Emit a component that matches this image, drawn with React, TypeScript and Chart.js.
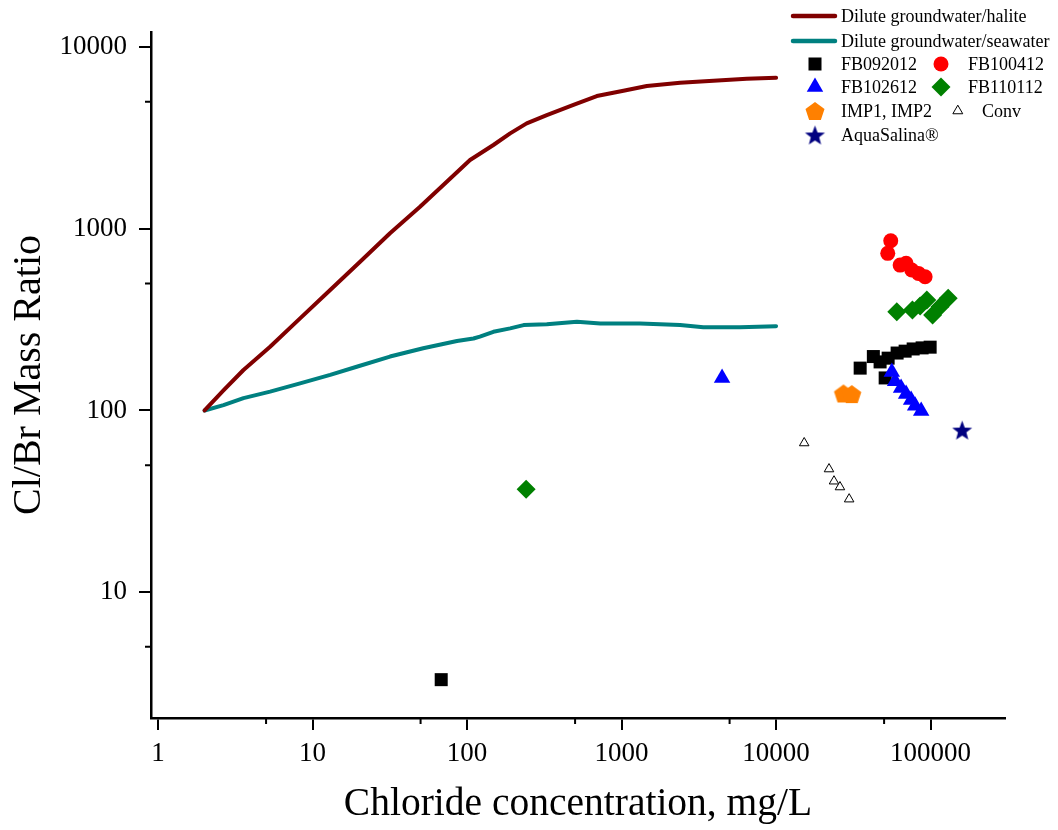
import React, { useEffect, useRef } from 'react';
import { Chart, registerables } from 'chart.js';
import { drawPoint } from 'chart.js/helpers';

Chart.register(...registerables);

const FONT = "'Liberation Serif', 'Times New Roman', serif";

// ---- Data ----
const haliteX = [2, 2.65, 3.57, 5.31, 8.3, 13, 20.3, 31.7, 49.6, 73.9, 104.5, 148, 190, 243, 328, 488, 691, 1028, 1456, 2392, 3928, 6460, 10000];
const haliteY = [100, 129, 167, 224, 321, 460, 658, 944, 1321, 1814, 2390, 2890, 3350, 3800, 4225, 4800, 5375, 5750, 6100, 6360, 6525, 6692, 6780];

const seawaterX = [2, 2.65, 3.57, 5.31, 8.3, 13, 19.3, 31.7, 52, 86, 110, 121, 148, 190, 232, 328, 514, 728, 1315, 2392, 3380, 5820, 10000];
const seawaterY = [100, 107, 117, 127, 141, 157, 174, 198, 220, 241, 249, 255, 271, 283, 295, 298, 308, 301, 301, 295, 287, 287, 291];

const fb092012X = [68, 35000, 42600, 47100, 50800, 53100, 60700, 68400, 77100, 88100, 99300];
const fb092012Y = [3.3, 171, 198, 185, 151, 194, 207, 212, 218, 221, 223];

const fb100412X = [52800, 55200, 63500, 69400, 75500, 83400, 92100];
const fb100412Y = [732, 859, 631, 645, 593, 568, 544];

const fb102612X = [4470, 56100, 58900, 64400, 69400, 74800, 79400, 86900];
const fb102612Y = [151, 163, 145, 133, 123, 114, 106, 99.3];

const fb110112X = [241, 60400, 76300, 85500, 94500, 103000, 115000, 130000];
const fb110112Y = [36.9, 349, 357, 376, 405, 335, 372, 414];

const impX = [27300, 30900];
const impY = [124, 123];

const convX = [15200, 22000, 23700, 25900, 29700];
const convY = [66.2, 47.6, 40.8, 37.9, 32.5];

const aquaX = [160000];
const aquaY = [78];

const xTicks = [1, 10, 100, 1000, 10000, 100000];
const yTicks = [10, 100, 1000, 10000];
const xMinor = [5, 50, 500, 5000, 50000];
const yMinor = [5, 50, 500, 5000];

const pts = (xs: number[], ys: number[]) => xs.map((x, i) => ({ x, y: ys[i] }));

function makeShape(kind: 'pentagon' | 'star', r: number, fill: string): HTMLCanvasElement {
  const size = Math.ceil(r * 2 + 4);
  const c = document.createElement('canvas');
  c.width = size;
  c.height = size;
  const ctx = c.getContext('2d')!;
  ctx.fillStyle = fill;
  ctx.beginPath();
  const cx = size / 2;
  const cy = size / 2 + 1;
  if (kind === 'pentagon') {
    for (let i = 0; i < 5; i++) {
      const a = -Math.PI / 2 + (i * 2 * Math.PI) / 5;
      const px = cx + r * Math.cos(a);
      const py = cy + r * Math.sin(a);
      if (i === 0) ctx.moveTo(px, py);
      else ctx.lineTo(px, py);
    }
  } else {
    const ri = r * 0.42;
    for (let i = 0; i < 10; i++) {
      const a = -Math.PI / 2 + (i * Math.PI) / 5;
      const rr = i % 2 ? ri : r;
      const px = cx + rr * Math.cos(a);
      const py = cy + rr * Math.sin(a);
      if (i === 0) ctx.moveTo(px, py);
      else ctx.lineTo(px, py);
    }
  }
  ctx.closePath();
  ctx.fill();
  return c;
}

type Mark = { style: any; radius: number; fill: string; stroke: string; bw: number };

const minorTicksPlugin = {
  id: 'minorTicks',
  afterDraw(chart: any) {
    const ctx = chart.ctx;
    const xs = chart.scales.x;
    const ys = chart.scales.y;
    ctx.save();
    ctx.strokeStyle = '#000';
    ctx.lineWidth = 2;
    ctx.beginPath();
    xMinor.forEach((v) => {
      const px = xs.getPixelForValue(v);
      ctx.moveTo(px, xs.top);
      ctx.lineTo(px, xs.top + 6);
    });
    yMinor.forEach((v) => {
      const py = ys.getPixelForValue(v);
      ctx.moveTo(ys.right, py);
      ctx.lineTo(ys.right - 6, py);
    });
    ctx.stroke();
    ctx.restore();
  },
};

function makeLegendPlugin(marks: Record<string, Mark>) {
  return {
    id: 'customLegend',
    afterDraw(chart: any) {
      const ctx = chart.ctx;
      ctx.save();
      ctx.font = `18px ${FONT}`;
      ctx.fillStyle = '#000';
      ctx.textBaseline = 'middle';
      ctx.textAlign = 'left';
      const lineItems = [
        { label: 'Dilute groundwater/halite', color: '#800000', y: 16 },
        { label: 'Dilute groundwater/seawater', color: '#008080', y: 41 },
      ];
      lineItems.forEach((it) => {
        ctx.strokeStyle = it.color;
        ctx.lineWidth = 4.5;
        ctx.lineCap = 'round';
        ctx.beginPath();
        ctx.moveTo(793, it.y);
        ctx.lineTo(835, it.y);
        ctx.stroke();
        ctx.fillStyle = '#000';
        ctx.fillText(it.label, 841, it.y + 1);
      });
      const items = [
        { key: 'FB092012', mx: 815, tx: 841, y: 64 },
        { key: 'FB100412', mx: 941, tx: 968, y: 64 },
        { key: 'FB102612', mx: 815, tx: 841, y: 87 },
        { key: 'FB110112', mx: 941, tx: 968, y: 87 },
        { key: 'IMP1, IMP2', mx: 815, tx: 841, y: 111 },
        { key: 'Conv', mx: 958, tx: 982, y: 111 },
        { key: 'AquaSalina®', mx: 815, tx: 841, y: 135 },
      ];
      items.forEach((it) => {
        const m = marks[it.key];
        ctx.fillStyle = m.fill;
        ctx.strokeStyle = m.stroke;
        ctx.lineWidth = m.bw;
        drawPoint(ctx, { pointStyle: m.style, rotation: 0, radius: m.radius, borderWidth: m.bw } as any, it.mx, it.y);
        ctx.fillStyle = '#000';
        ctx.fillText(it.key, it.tx, it.y + 1);
      });
      ctx.restore();
    },
  };
}

export default function App() {
  const ref = useRef<HTMLCanvasElement | null>(null);

  useEffect(() => {
    if (!ref.current) return;
    const pentagon = makeShape('pentagon', 10, '#FF8000');
    const star = makeShape('star', 10.5, '#000080');

    const marks: Record<string, Mark> = {
      FB092012: { style: 'rect', radius: 9.2, fill: '#000000', stroke: '#000000', bw: 0 },
      FB100412: { style: 'circle', radius: 7.5, fill: '#FF0000', stroke: '#FF0000', bw: 0 },
      FB102612: { style: 'triangle', radius: 9.5, fill: '#0000FF', stroke: '#0000FF', bw: 0 },
      FB110112: { style: 'rectRot', radius: 9.5, fill: '#008000', stroke: '#008000', bw: 0 },
      'IMP1, IMP2': { style: pentagon, radius: 10, fill: '#FF8000', stroke: '#FF8000', bw: 0 },
      Conv: { style: 'triangle', radius: 5.5, fill: '#FFFFFF', stroke: '#000000', bw: 1 },
      'AquaSalina®': { style: star, radius: 10, fill: '#000080', stroke: '#000080', bw: 0 },
    };

    const scatter = (label: string, xs: number[], ys: number[], order: number) => {
      const m = marks[label];
      return {
        type: 'scatter' as const,
        label,
        data: pts(xs, ys),
        pointStyle: m.style,
        pointRadius: m.radius,
        pointHoverRadius: m.radius,
        pointBackgroundColor: m.fill,
        pointBorderColor: m.stroke,
        pointBorderWidth: m.bw,
        showLine: false,
        order,
      };
    };

    const line = (label: string, xs: number[], ys: number[], color: string) => ({
      type: 'line' as const,
      label,
      data: pts(xs, ys),
      borderColor: color,
      backgroundColor: color,
      borderWidth: 4,
      borderCapStyle: 'round',
      borderJoinStyle: 'round',
      pointRadius: 0,
      tension: 0,
      fill: false,
      order: 10,
    });

    const chart = new Chart(ref.current, {
      type: 'scatter',
      data: {
        datasets: [
          line('Dilute groundwater/halite', haliteX, haliteY, '#800000'),
          line('Dilute groundwater/seawater', seawaterX, seawaterY, '#008080'),
          scatter('Conv', convX, convY, 7),
          scatter('IMP1, IMP2', impX, impY, 6),
          scatter('FB092012', fb092012X, fb092012Y, 5),
          scatter('FB102612', fb102612X, fb102612Y, 4),
          scatter('FB110112', fb110112X, fb110112Y, 3),
          scatter('FB100412', fb100412X, fb100412Y, 2),
          scatter('AquaSalina®', aquaX, aquaY, 1),
        ] as any,
      },
      options: {
        animation: false,
        responsive: false,
        events: [],
        layout: { padding: { left: 0, right: 53, top: 32, bottom: 0 } },
        plugins: {
          legend: { display: false },
          tooltip: { enabled: false },
        },
        scales: {
          x: {
            type: 'logarithmic',
            position: 'bottom',
            min: 0.9,
            max: 303000,
            afterBuildTicks: (s: any) => {
              s.ticks = xTicks.map((v) => ({ value: v }));
            },
            afterFit: (s: any) => {
              s.height = 112;
            },
            ticks: {
              autoSkip: false,
              maxRotation: 0,
              color: '#000',
              padding: 8,
              font: { family: FONT, size: 27 },
              callback: (v: any) => String(v),
            },
            grid: { drawOnChartArea: false, tickLength: 12, color: '#000', lineWidth: 2 },
            border: { color: '#000', width: 2.5 },
            title: {
              display: true,
              text: 'Chloride concentration, mg/L',
              color: '#000',
              font: { family: FONT, size: 39.5, lineHeight: 1 },
              padding: { top: 0, bottom: 6 },
            },
          },
          y: {
            type: 'logarithmic',
            position: 'left',
            min: 2.03,
            max: 12100,
            afterBuildTicks: (s: any) => {
              s.ticks = yTicks.map((v) => ({ value: v }));
            },
            afterFit: (s: any) => {
              s.width = 151;
            },
            ticks: {
              autoSkip: false,
              color: '#000',
              padding: 12,
              font: { family: FONT, size: 27 },
              callback: (v: any) => String(v),
            },
            grid: { drawOnChartArea: false, tickLength: 12, color: '#000', lineWidth: 2 },
            border: { color: '#000', width: 2.5 },
            title: {
              display: true,
              text: 'Cl/Br Mass Ratio',
              color: '#000',
              font: { family: FONT, size: 40, lineHeight: 1 },
              padding: { top: 9, bottom: 0 },
            },
          },
        },
      } as any,
      plugins: [minorTicksPlugin, makeLegendPlugin(marks)],
    });
    return () => chart.destroy();
  }, []);

  return (
    <div style={{ position: 'absolute', left: 0, top: 0, width: 1058, height: 830, background: '#fff' }}>
      <canvas ref={ref} width={1058} height={830} style={{ display: 'block' }} />
    </div>
  );
}
